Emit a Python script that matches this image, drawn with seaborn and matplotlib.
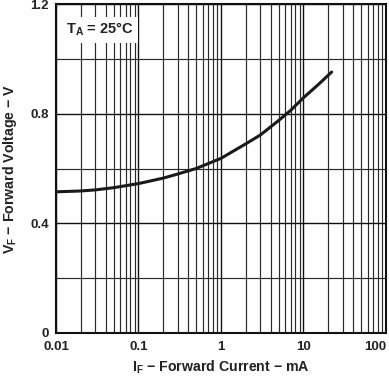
import numpy as np
import pandas as pd
import matplotlib
matplotlib.use("Agg")
import matplotlib.pyplot as plt
import matplotlib.ticker as mticker
import seaborn as sns

# forward current (mA) vs forward voltage (V)
current_ma = [0.01, 0.02, 0.03, 0.05, 0.1, 0.2, 0.3, 0.5, 1, 2, 3, 5, 7, 10, 15, 22]
voltage_v = [0.515, 0.518, 0.522, 0.530, 0.545, 0.565, 0.580, 0.600, 0.637, 0.690,
             0.722, 0.775, 0.812, 0.858, 0.905, 0.952]

x_ticks = [0.01, 0.1, 1, 10, 100]
x_labels = ["0.01", "0.1", "1", "10", "100"]
y_ticks = [0, 0.4, 0.8, 1.2]
y_labels = ["0", "0.4", "0.8", "1.2"]

sns.set_style("white")
plt.rcParams['font.family'] = ['Liberation Sans', 'DejaVu Sans']
plt.rcParams['font.weight'] = 'bold'
plt.rcParams['mathtext.fontset'] = 'custom'
plt.rcParams['mathtext.rm'] = 'Liberation Sans:bold'
plt.rcParams['mathtext.it'] = 'Liberation Sans:bold'
plt.rcParams['mathtext.bf'] = 'Liberation Sans:bold'

df = pd.DataFrame({"I": current_ma, "V": voltage_v})

fig = plt.figure(figsize=(3.89, 3.79), dpi=100)
ax = fig.add_axes([0.144, 0.1214, 0.848, 0.868])

sns.lineplot(data=df, x="I", y="V", ax=ax, color="#1a1a1a", linewidth=2.2, zorder=3)

ax.set_xscale("log")
ax.set_xlim(0.01, 100)
ax.set_ylim(0, 1.2)

ax.set_xticks(x_ticks)
ax.set_xticklabels(x_labels)
ax.xaxis.set_minor_locator(mticker.LogLocator(base=10, subs=np.arange(2, 10)))
ax.xaxis.set_minor_formatter(mticker.NullFormatter())
ax.set_yticks(y_ticks)
ax.set_yticklabels(y_labels)
ax.yaxis.set_minor_locator(mticker.FixedLocator([0.2, 0.6, 1.0]))

ax.grid(True, which="major", color="#111111", linewidth=1.0)
ax.grid(True, which="minor", color="#2a2a2a", linewidth=0.85)
ax.tick_params(which="both", length=0, labelsize=9.5)
ax.tick_params(axis="x", pad=6)
ax.tick_params(axis="y", pad=5)
for lab in ax.get_xticklabels() + ax.get_yticklabels():
    lab.set_fontweight("bold")
    lab.set_color("#222222")
last = ax.get_xticklabels()[-1]
last.set_horizontalalignment("right")

for s in ax.spines.values():
    s.set_color("#111111")
    s.set_linewidth(1.5)

ax.set_xlabel(r"$\mathregular{I_F}$ − Forward Current − mA", fontsize=10.2, fontweight="bold",
              labelpad=4, color="#222222")
ax.set_ylabel(r"$\mathregular{V_F}$ − Forward Voltage − V", fontsize=10.2, fontweight="bold",
              labelpad=8, color="#222222")

ax.text(0.03, 0.922, r"$\mathregular{T_A}$ = 25°C", transform=ax.transAxes,
        fontsize=10.5, fontweight="bold", va="center", ha="left", zorder=4, color="#222222",
        bbox=dict(facecolor="white", edgecolor="none", pad=3))

fig.savefig("out.png", dpi=100)
